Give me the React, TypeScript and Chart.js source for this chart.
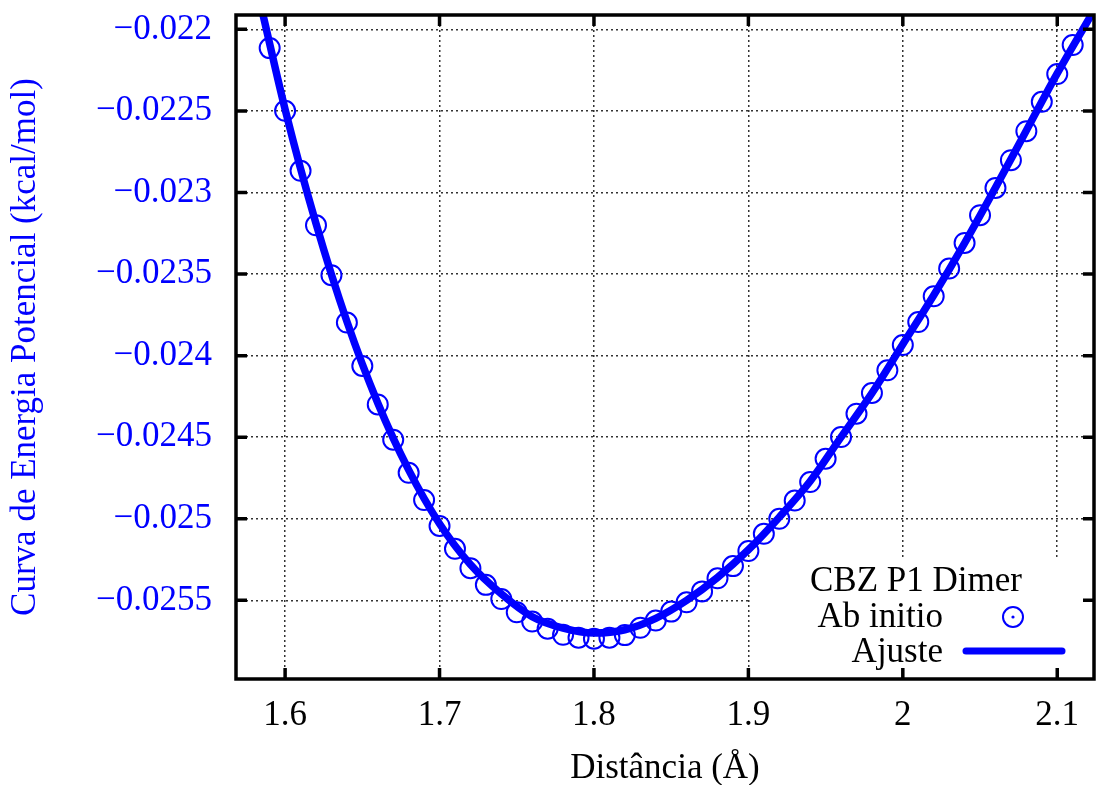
import React, { useEffect, useRef } from "react";
import { Chart, registerables } from "chart.js";

Chart.register(...registerables);

const distances = [
  1.59, 1.6, 1.61, 1.62, 1.63, 1.64, 1.65, 1.66, 1.67, 1.68, 1.69, 1.7, 1.71, 1.72,
  1.73, 1.74, 1.75, 1.76, 1.77, 1.78, 1.79, 1.8, 1.81, 1.82, 1.83, 1.84, 1.85, 1.86,
  1.87, 1.88, 1.89, 1.9, 1.91, 1.92, 1.93, 1.94, 1.95, 1.96, 1.97, 1.98, 1.99, 2.0,
  2.01, 2.02, 2.03, 2.04, 2.05, 2.06, 2.07, 2.08, 2.09, 2.1, 2.11,
];
const abInitio = [
  -0.022115, -0.022499, -0.022867, -0.023201, -0.023507, -0.023797, -0.024063,
  -0.024299, -0.024515, -0.024718, -0.024885, -0.025044, -0.025184, -0.025303,
  -0.025405, -0.025492, -0.025573, -0.02563, -0.025674, -0.025711, -0.025729,
  -0.025735, -0.025729, -0.025713, -0.025668, -0.025624, -0.025569, -0.025512,
  -0.025445, -0.025365, -0.02529, -0.025198, -0.025092, -0.025, -0.024888,
  -0.024775, -0.024632, -0.024499, -0.024356, -0.024229, -0.02409, -0.023935,
  -0.023794, -0.023636, -0.023466, -0.023309, -0.023139, -0.022972, -0.022802,
  -0.022624, -0.022444, -0.022274, -0.022096,
];
const fitX = [
  1.5857, 1.6, 1.62, 1.64, 1.66, 1.68, 1.7, 1.72, 1.74, 1.76, 1.78, 1.8, 1.82, 1.84,
  1.86, 1.88, 1.9, 1.92, 1.94, 1.96, 1.98, 2.0, 2.02, 2.04, 2.06, 2.08, 2.1, 2.122,
];
const fitY = [
  -0.021912, -0.02249, -0.02319, -0.02379, -0.02429, -0.0247, -0.02503, -0.02528,
  -0.02546, -0.0256, -0.02567, -0.0257, -0.02568, -0.02561, -0.0255, -0.02536,
  -0.02519, -0.02499, -0.02477, -0.0245, -0.02423, -0.02393, -0.02363, -0.02331,
  -0.02297, -0.02262, -0.02227, -0.021912,
];
const xTicks = [1.6, 1.7, 1.8, 1.9, 2.0, 2.1];
const xTickLabels = ["1.6", "1.7", "1.8", "1.9", "2", "2.1"];
const yTicks = [-0.0255, -0.025, -0.0245, -0.024, -0.0235, -0.023, -0.0225, -0.022];
const yTickLabels = [
  "\u22120.0255", "\u22120.025", "\u22120.0245", "\u22120.024",
  "\u22120.0235", "\u22120.023", "\u22120.0225", "\u22120.022",
];
const legendTitle = "CBZ P1 Dimer";
const seriesNames = ["Ab initio", "Ajuste"];
const xTitle = "Distância (Å)";
const yTitle = "Curva de Energia Potencial (kcal/mol)";

const BLUE = "#0000ff";
const FONT = "'Liberation Serif', 'Times New Roman', serif";
const FS = 35;

const framePlugin = {
  id: "gnuplotFrame",
  beforeDatasetsDraw(chart: any) {
    const { ctx, chartArea } = chart;
    ctx.save();
    ctx.fillStyle = "#ffffff";
    ctx.fillRect(750, 560, 1083 - 750, chartArea.bottom - 2 - 560);
    ctx.restore();
  },
  afterDraw(chart: any) {
    const { ctx, chartArea, scales } = chart;
    const { left, right, top, bottom } = chartArea;
    ctx.save();
    ctx.strokeStyle = "#000";
    ctx.lineWidth = 3.5;
    ctx.lineCap = "butt";
    const tl = 11;
    ctx.beginPath();
    xTicks.forEach((v) => {
      const px = scales.x.getPixelForValue(v);
      ctx.moveTo(px, bottom);
      ctx.lineTo(px, bottom - tl);
      ctx.moveTo(px, top);
      ctx.lineTo(px, top + tl);
    });
    yTicks.forEach((v) => {
      const py = scales.y.getPixelForValue(v);
      ctx.moveTo(left, py);
      ctx.lineTo(left + tl, py);
      ctx.moveTo(right, py);
      ctx.lineTo(right - tl, py);
    });
    ctx.stroke();
    ctx.strokeRect(left, top, right - left, bottom - top);

    // key
    ctx.fillStyle = "#000";
    ctx.font = `${FS}px ${FONT}`;
    ctx.textBaseline = "middle";
    ctx.textAlign = "center";
    ctx.fillText(legendTitle, 916, 582);
    ctx.textAlign = "right";
    ctx.fillText(seriesNames[0], 943, 618);
    ctx.fillText(seriesNames[1], 943, 653);
    ctx.strokeStyle = BLUE;
    ctx.lineWidth = 2;
    ctx.beginPath();
    ctx.arc(1013, 617, 10, 0, Math.PI * 2);
    ctx.stroke();
    ctx.fillStyle = BLUE;
    ctx.beginPath();
    ctx.arc(1013, 617, 1.6, 0, Math.PI * 2);
    ctx.fill();
    ctx.lineWidth = 7;
    ctx.lineCap = "round";
    ctx.beginPath();
    ctx.moveTo(966, 651);
    ctx.lineTo(1062, 651);
    ctx.stroke();
    ctx.restore();
  },
};

export default function App() {
  const ref = useRef<HTMLCanvasElement | null>(null);
  useEffect(() => {
    if (!ref.current) return;
    Chart.defaults.font.family = FONT;
    const chart = new Chart(ref.current, {
      type: "scatter",
      data: {
        datasets: [
          {
            label: seriesNames[1],
            data: fitX.map((x, i) => ({ x, y: fitY[i] })),
            showLine: true,
            borderColor: BLUE,
            borderWidth: 7.5,
            pointRadius: 0,
            cubicInterpolationMode: "monotone",
          },
          {
            label: seriesNames[0],
            data: distances.map((x, i) => ({ x, y: abInitio[i] })),
            showLine: false,
            borderColor: BLUE,
            backgroundColor: "rgba(0,0,0,0)",
            pointRadius: 10,
            pointBorderWidth: 2,
            pointStyle: "circle",
          },
        ],
      },
      options: {
        animation: false,
        responsive: false,
        maintainAspectRatio: false,
        layout: { autoPadding: false, padding: { left: 0, top: 15, right: 2, bottom: 0 } },
        plugins: { legend: { display: false }, tooltip: { enabled: false } },
        scales: {
          x: {
            type: "linear",
            min: 1.5682,
            max: 2.1238,
            afterFit: (s: any) => {
              s.height = 106;
              s.paddingLeft = 0;
              s.paddingRight = 0;
            },
            afterBuildTicks: (s: any) => {
              s.ticks = xTicks.map((v) => ({ value: v }));
            },
            ticks: {
              color: "#000",
              font: { size: FS },
              padding: 16,
              autoSkip: false,
              maxRotation: 0,
              callback: (_v: any, i: number) => xTickLabels[i],
            },
            grid: { color: "#333", lineWidth: 1.5, drawTicks: false },
            border: { display: false, dash: [2, 3] },
            title: {
              display: true,
              text: xTitle,
              color: "#000",
              font: { size: FS, lineHeight: 1 },
              padding: { top: 0, bottom: -1 },
            },
          },
          y: {
            type: "linear",
            min: -0.025982,
            max: -0.021912,
            afterFit: (s: any) => {
              s.width = 236;
              s.paddingTop = 0;
              s.paddingBottom = 0;
            },
            afterBuildTicks: (s: any) => {
              s.ticks = yTicks.map((v) => ({ value: v }));
            },
            ticks: {
              color: BLUE,
              font: { size: FS },
              padding: 24,
              autoSkip: false,
              callback: (_v: any, i: number) => yTickLabels[i],
            },
            grid: { color: "#333", lineWidth: 1.5, drawTicks: false },
            border: { display: false, dash: [2, 3] },
            title: {
              display: true,
              text: yTitle,
              color: BLUE,
              font: { size: FS, lineHeight: 1 },
              padding: { top: 8, bottom: 0 },
            },
          },
        },
      },
      plugins: [framePlugin],
    });
    return () => chart.destroy();
  }, []);
  return (
    <div style={{ position: "absolute", left: 0, top: 0, width: 1096, height: 785, background: "#fff" }}>
      <canvas ref={ref} width={1096} height={785} style={{ width: 1096, height: 785 }} />
    </div>
  );
}
